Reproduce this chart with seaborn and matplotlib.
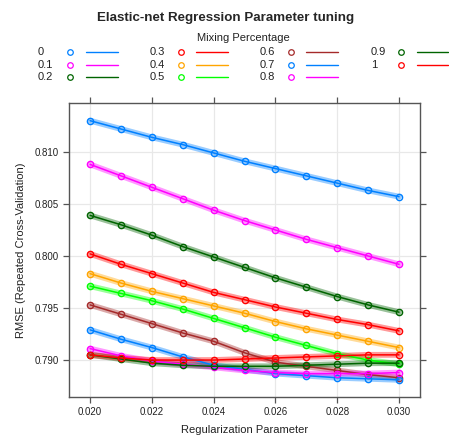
import numpy as np
import pandas as pd
import matplotlib
matplotlib.use("Agg")
import matplotlib.pyplot as plt
from matplotlib.lines import Line2D
import seaborn as sns

# ---- data ----
lambdas = [0.020, 0.021, 0.022, 0.023, 0.024, 0.025, 0.026, 0.027, 0.028, 0.029, 0.030]
mix_labels = ["0", "0.1", "0.2", "0.3", "0.4", "0.5", "0.6", "0.7", "0.8", "0.9", "1"]

rmse_00 = [0.8130, 0.8122, 0.8114, 0.8107, 0.8099, 0.8091, 0.8084, 0.8077, 0.8070, 0.8063, 0.8057]
rmse_01 = [0.8088, 0.8077, 0.8066, 0.8055, 0.8044, 0.8034, 0.8025, 0.8016, 0.8008, 0.8000, 0.7992]
rmse_02 = [0.8039, 0.8030, 0.8020, 0.8009, 0.7999, 0.7989, 0.7979, 0.7970, 0.7961, 0.7953, 0.7946]
rmse_03 = [0.8002, 0.7992, 0.7983, 0.7974, 0.7965, 0.7958, 0.7951, 0.7945, 0.7939, 0.7934, 0.7928]
rmse_04 = [0.7983, 0.7974, 0.7966, 0.7959, 0.7952, 0.7945, 0.7937, 0.7930, 0.7924, 0.7918, 0.7912]
rmse_05 = [0.7971, 0.7964, 0.7957, 0.7949, 0.7940, 0.7931, 0.7922, 0.7914, 0.7906, 0.7900, 0.7896]
rmse_06 = [0.7953, 0.7944, 0.7935, 0.7926, 0.7918, 0.7907, 0.7898, 0.7894, 0.7890, 0.7886, 0.7883]
rmse_07 = [0.7929, 0.7920, 0.7912, 0.7903, 0.7895, 0.7891, 0.7887, 0.7885, 0.7883, 0.7882, 0.7881]
rmse_08 = [0.7911, 0.7904, 0.7899, 0.7896, 0.7893, 0.7890, 0.7888, 0.7887, 0.7887, 0.7887, 0.7888]
rmse_09 = [0.7905, 0.7901, 0.7897, 0.7895, 0.7894, 0.7894, 0.7894, 0.7895, 0.7896, 0.7897, 0.7897]
rmse_10 = [0.7905, 0.7902, 0.7900, 0.7900, 0.7900, 0.7901, 0.7902, 0.7903, 0.7904, 0.7905, 0.7905]

series = [rmse_00, rmse_01, rmse_02, rmse_03, rmse_04, rmse_05,
          rmse_06, rmse_07, rmse_08, rmse_09, rmse_10]

x_ticks = [0.020, 0.022, 0.024, 0.026, 0.028, 0.030]
y_ticks = [0.790, 0.795, 0.800, 0.805, 0.810]

colors = ["#0080ff", "#ff00ff", "#006400", "#ff0000", "#ffa500", "#00ff00",
          "#a52a2a", "#0080ff", "#ff00ff", "#006400", "#ff0000"]
palette = dict(zip(mix_labels, colors))

rows = []
for lab, vals in zip(mix_labels, series):
    for lam, v in zip(lambdas, vals):
        rows.append({"lambda": lam, "RMSE": v, "alpha": lab})
df = pd.DataFrame(rows)

# ---- figure ----
sns.set_style("white")
plt.rcParams["font.family"] = ["Liberation Sans", "DejaVu Sans"]

W, H = 449, 441
fig = plt.figure(figsize=(W / 100, H / 100), dpi=100)
ax = fig.add_axes([68.5 / W, 1 - 397 / H, (420 - 68.5) / W, (397 - 103) / H])

ax.grid(True, color="#e8e8e8", linewidth=0.9)
ax.set_axisbelow(True)

# soft band under each series
sns.lineplot(data=df, x="lambda", y="RMSE", hue="alpha", hue_order=mix_labels,
             palette=palette, linewidth=4.2, alpha=0.4, legend=False, ax=ax,
             sort=False)
n_band = len(ax.lines)
sns.lineplot(data=df, x="lambda", y="RMSE", hue="alpha", hue_order=mix_labels,
             palette=palette, linewidth=1.1, marker="o", markersize=4.5,
             legend=False, ax=ax, sort=False)
for ln in ax.lines[n_band:]:
    col = ln.get_color()
    ln.set_markerfacecolor("none")
    ln.set_markeredgecolor(col)
    ln.set_markeredgewidth(1.0)

ax.set_xlim(0.01930, 0.03068)
ax.set_ylim(0.78645, 0.81470)
ax.set_xticks(x_ticks)
ax.set_xticklabels([f"{t:.3f}" for t in x_ticks])
ax.set_yticks(y_ticks)
ax.set_yticklabels([f"{t:.3f}" for t in y_ticks])

for s in ax.spines.values():
    s.set_color("#555555")
    s.set_linewidth(1.0)
ax.tick_params(axis="both", which="both", direction="out", length=4, width=0.9,
               color="#555555", labelsize=7, labelcolor="#222222",
               top=True, right=True, bottom=True, left=True,
               labeltop=False, labelright=False, pad=3)

ax.set_xlabel("Regularization Parameter", fontsize=8, color="#222222", labelpad=6)
ax.set_ylabel("RMSE (Repeated Cross-Validation)", fontsize=8, color="#222222", labelpad=6)

# title
fig.text(226 / W, 1 - 18 / H, "Elastic-net Regression Parameter tuning",
         ha="center", va="center", fontsize=9.6, fontweight="bold")
# legend title
fig.text(243 / W, 1 - 38 / H, "Mixing Percentage", ha="center", va="center",
         fontsize=8, color="#222222")

# manual lattice-style key: label, circle, line
col_label_x = [38, 150, 260, 371]
col_circle_x = [70, 181, 291, 401]
col_line_x = [(86, 118), (196, 228), (306, 338), (417, 448)]
row_y = [52, 64.5, 77]
for i, lab in enumerate(mix_labels):
    c, r = divmod(i, 3)
    y = 1 - row_y[r] / H
    fig.text(col_label_x[c] / W, y, lab, ha="left", va="center", fontsize=8,
             color="#222222")
    fig.add_artist(Line2D([col_circle_x[c] / W], [y], marker="o", markersize=4,
                          markerfacecolor="none", markeredgecolor=colors[i],
                          markeredgewidth=0.9, linestyle="none",
                          transform=fig.transFigure))
    fig.add_artist(Line2D([col_line_x[c][0] / W, col_line_x[c][1] / W], [y, y],
                          color=colors[i], linewidth=1.0,
                          transform=fig.transFigure))

fig.savefig("out.png", dpi=100)
